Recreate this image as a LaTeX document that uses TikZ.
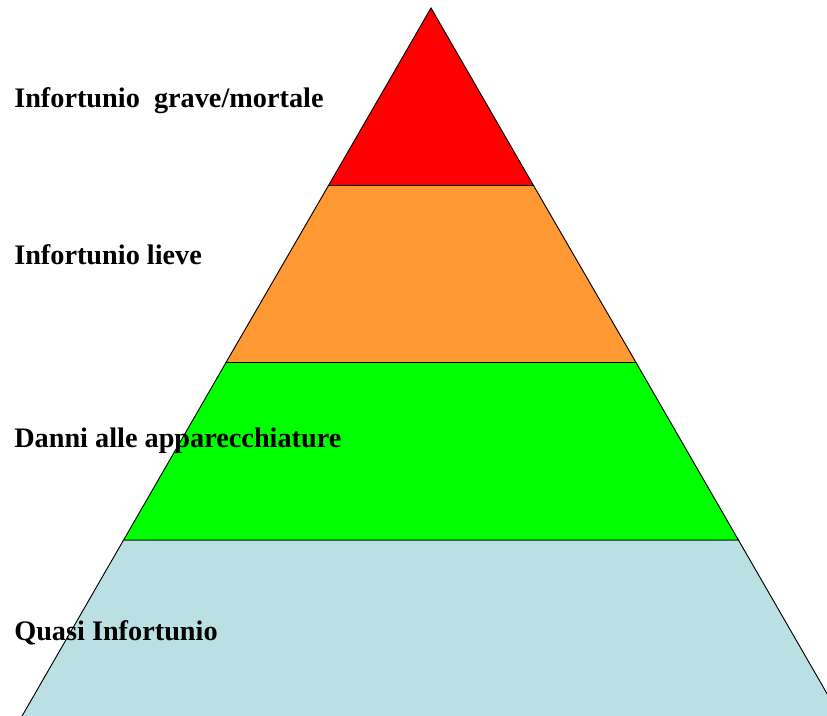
\documentclass[tikz,border=0pt]{standalone}
\usepackage{fontspec}
\setmainfont{Liberation Serif}
\definecolor{bandred}{HTML}{FF0000}
\definecolor{bandorange}{HTML}{FF9933}
\definecolor{bandgreen}{HTML}{00FF00}
\definecolor{bandblue}{HTML}{BBE0E3}
\begin{document}
\begin{tikzpicture}[x=0.75pt,y=-0.75pt,
  band/.style={draw=black,line width=0.7pt,line join=miter},
  lbl/.style={anchor=base west,inner sep=0pt,font=\fontsize{21.2pt}{24pt}\selectfont\bfseries}]
\useasboundingbox (0,0) rectangle (827,715);
\clip (0,0) rectangle (827,715);
% helper: x on left/right edges at height y: 431 -/+ (y-8)*0.57735
\coordinate (apex) at (431,8);
\coordinate (l1) at (328.5,185.5); \coordinate (r1) at (533.5,185.5);
\coordinate (l2) at (226.0,362.5); \coordinate (r2) at (636.0,362.5);
\coordinate (l3) at (123.6,540);   \coordinate (r3) at (738.4,540);
\coordinate (l4) at (21.2,717.5);  \coordinate (r4) at (840.8,717.5);
\path[band,fill=bandblue]   (l3) -- (r3) -- (r4) -- (l4) -- cycle;
\path[band,fill=bandgreen]  (l2) -- (r2) -- (r3) -- (l3) -- cycle;
\path[band,fill=bandorange] (l1) -- (r1) -- (r2) -- (l2) -- cycle;
\path[band,fill=bandred]    (apex) -- (r1) -- (l1) -- cycle;
\node[lbl] (t1) at (14,107) {Infortunio\ \ grave/mortale};
\node[lbl] (t2) at (14,264) {Infortunio lieve};
\node[lbl] (t3) at (14,447) {Danni alle apparecchiature};
\node[lbl] (t4) at (14,640) {Quasi Infortunio};
\end{tikzpicture}
\end{document}
